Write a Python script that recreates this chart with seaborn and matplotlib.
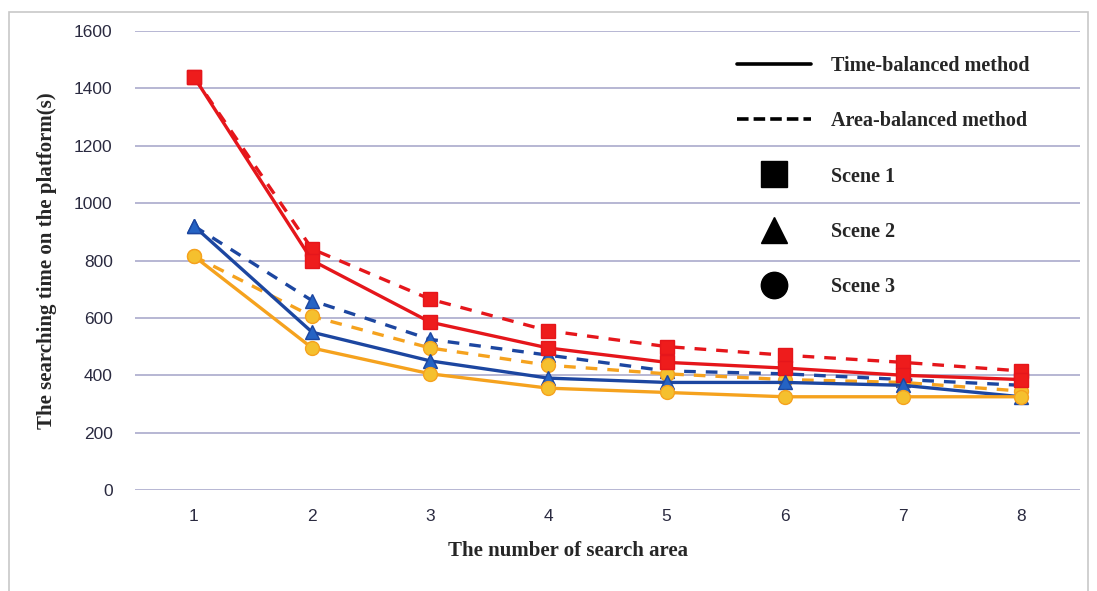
import numpy as np
import pandas as pd
import seaborn as sns
import matplotlib.pyplot as plt
from matplotlib.lines import Line2D
from matplotlib.patches import Rectangle

# number of search areas
areas = [1, 2, 3, 4, 5, 6, 7, 8]

# searching time (s)
scene1_time = [1440, 800, 585, 495, 445, 425, 400, 385]
scene1_area = [1440, 840, 665, 555, 500, 470, 445, 415]
scene2_time = [920, 550, 450, 390, 375, 375, 365, 325]
scene2_area = [920, 660, 525, 470, 415, 405, 385, 365]
scene3_time = [815, 495, 405, 355, 340, 325, 325, 325]
scene3_area = [815, 605, 495, 435, 405, 385, 375, 345]

colors = {'Scene 1': '#e5161b', 'Scene 2': '#1c46a0', 'Scene 3': '#f5a21e'}
face = {'Scene 1': '#ee1c1c', 'Scene 2': '#2563c4', 'Scene 3': '#f5c02e'}
markers = {'Scene 1': 's', 'Scene 2': '^', 'Scene 3': 'o'}

series = [
    ('Scene 1', 'area', scene1_area), ('Scene 2', 'area', scene2_area),
    ('Scene 3', 'area', scene3_area), ('Scene 1', 'time', scene1_time),
    ('Scene 2', 'time', scene2_time), ('Scene 3', 'time', scene3_time),
]

sns.set_style("white")
plt.rcParams['font.family'] = ['Liberation Sans', 'DejaVu Sans']

fig = plt.figure(figsize=(10.97, 5.91), dpi=100)
ax = fig.add_axes([0.123, 0.1709, 0.8615, 0.7766])

for scene, method, vals in series:
    df = pd.DataFrame({'area': areas, 'time': vals})
    sns.lineplot(data=df, x='area', y='time', ax=ax, color=colors[scene],
                 marker=markers[scene], markersize=10, markerfacecolor=face[scene],
                 markeredgecolor=colors[scene], markeredgewidth=1,
                 linewidth=2.4, linestyle=(0, (3.5, 3)) if method == 'area' else '-')

ax.set_xlim(0.5, 8.5)
ax.set_ylim(0, 1600)
ax.set_xticks(areas)
ax.set_yticks(np.arange(0, 1601, 200))
ax.yaxis.grid(True, color='#aaaacc', linewidth=1.2)
ax.xaxis.grid(False)
for s in ax.spines.values():
    s.set_visible(False)
ax.tick_params(axis='both', length=0, labelsize=12.5, colors='#2a2a40')
ax.tick_params(axis='y', pad=16)
ax.tick_params(axis='x', pad=14)

serif = ['Liberation Serif', 'DejaVu Serif']
ax.set_xlabel('The number of search area', family=serif, fontweight='bold',
              fontsize=15, labelpad=12)
ax.xaxis.set_label_coords(0.458, -0.111)
ax.set_ylabel('The searching time on the platform(s)', family=serif,
              fontweight='bold', fontsize=15, labelpad=12)

handles = [
    Line2D([], [], color='black', linewidth=2.6, linestyle='-'),
    Line2D([], [], color='black', linewidth=2.6, linestyle=(0, (3.2, 1.4))),
    Line2D([], [], color='black', marker='s', markersize=19, linestyle='none'),
    Line2D([], [], color='black', marker='^', markersize=19, linestyle='none'),
    Line2D([], [], color='black', marker='o', markersize=19, linestyle='none'),
]
labels = ['Time-balanced method', 'Area-balanced method', 'Scene 1', 'Scene 2', 'Scene 3']
leg = ax.legend(handles, labels, loc='upper left', bbox_to_anchor=(0.6175, 0.985),
                frameon=False, handlelength=3.7, handletextpad=1.0,
                labelspacing=1.75, prop={'family': serif, 'weight': 'bold', 'size': 14.5})

fig.patches.append(Rectangle((0.008, -0.01), 0.984, 0.99, transform=fig.transFigure,
                             fill=False, edgecolor='#c8c8c8', linewidth=1.2))

fig.savefig('out.png', dpi=100)
